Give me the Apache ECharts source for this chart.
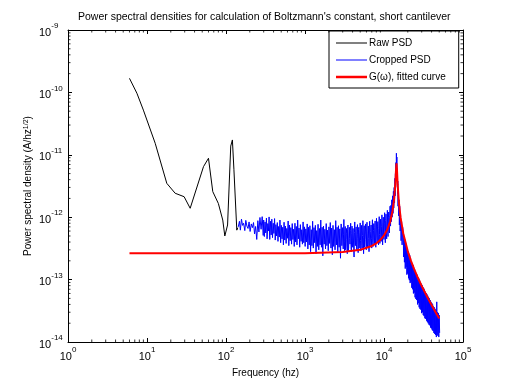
<!DOCTYPE html>
<html><head><meta charset="utf-8">
<script src="https://cdn.jsdelivr.net/npm/echarts@6/dist/echarts.min.js"></script>
<style>html,body{margin:0;padding:0;background:#fff}#c{width:512px;height:384px}</style>
</head><body><div id="c"></div>
<script>
// values are in units of 1e-13 A/hz^(1/2)
const PSD_UNIT = 1e-13;

const rawPsd = [
  [6.0,1680],[7.45,970],[9.0,520],[12.7,153],[17.8,34.9],[22.7,24.2],[29.5,21.3],[35.2,13.9],
  [51.9,64.6],[60,88],[68,25.7],[80,16.6],[91,9.0],[96.6,5.0],[104.7,7.5],[114.8,138],
  [120.5,173],[126,57.5],[137,6.2],[141,6.8]
];

const croppedFreq = [
  143,148,152,157,162,167,173,178,184,190,196,202,209,216,223,230,237,245,253,261,269,278,287,296,
  300,306,312,318,325,331,338,345,351,358,
  366,373,380,388,396,404,412,420,428,437,
  446,455,464,473,482,492,502,512,522,533,
  543,554,565,577,588,600,612,624,637,649,
  662,676,689,703,717,731,746,761,776,792,
  808,824,840,857,874,892,909,928,946,965,
  984,1004,1024,1045,1066,1087,1109,1131,1154,1177,
  1200,1224,1249,1274,1299,1325,1352,1379,1407,1435,
  1463,1493,1522,1553,1584,1616,1648,1681,1714,1749,
  1784,1819,1856,1893,1931,1969,2009,2049,2090,2132,
  2174,2218,2262,2307,2354,2401,2449,2498,2548,2599,
  2651,2704,2758,2813,2869,2927,2985,3045,3106,3168,
  3231,3296,3362,3429,3498,3568,3639,3712,3786,3862,
  3939,4018,4098,4180,4264,4349,4436,4525,4616,4708,
  4802,4898,4996,5096,5198,5302,5408,5516,5626,5739,
  5854,5971,6090,6212,6336,6463,6592,6724,6859,6996,
  7136,7279,7424,7573,7724,7879,8036,8197,8361,8528,
  8699,8873,9050,9231,9416,9604,9796,9992,10192,10396,
  10604,10816,11032,11253,11478,11708,11942,
  12100,12250,12400,12550,12700,12850,13000,13150,13300,13450,13600,13750,13850,13950,14050,14150,
  14250,14350,14450,14550,14650,14750,14850,14950,15050,15200,15350,15500,15650,15800,16000,16200,
  16450,16700,16950,17200,
  17500,17710,17923,18138,18355,18576,18799,19024,19253,19484,19718,19954,20194,20436,20681,20930,
  21181,21435,21692,21952,22216,22483,22752,23025,23302,23581,23864,24151,24440,24734,25030,25331,
  25635,25942,26254,26569,26888,27210,27537,27867,28202,28540,28883,29229,29580,29935,30294,30658,
  31026,31398,31775,32156,32542,32932,33328,33728,34132,34542,34957,35376,35800,36230,36665,37105,
  37550,38000,38456,38918,39385,39857,40335,40819,41309,41805,42307,42814,43328,43848,44374,44907,
  45446,45991,46543,47101,47667,48239,48817,49403,49996,50596
];
const croppedPsd = [
  7.0,8.6,6.2,9.3,7.4,8.0,6.1,8.9,7.2,6.6,8.4,5.9,7.8,6.8,8.2,5.4,7.1,4.4,8.8,5.8,9.9,6.4,10.2,5.1,
  9.0,4.9,8.4,5.6,9.7,4.5,7.9,6.0,10.1,4.4,
  8.6,5.2,9.3,4.7,8.0,5.5,9.5,4.3,7.6,5.0,
  8.2,4.1,7.1,4.8,9.0,3.9,7.4,4.5,6.9,3.6,
  8.3,4.3,7.2,3.8,6.6,4.6,8.7,3.5,7.5,4.2,
  6.8,3.7,7.9,4.4,6.4,3.4,8.0,4.0,7.1,3.6,
  9.0,4.5,6.7,3.3,7.6,4.1,6.3,3.7,8.4,3.9,
  7.0,3.4,6.5,4.0,7.8,3.1,6.9,3.6,7.3,2.8,
  6.3,3.5,8.6,3.2,6.8,3.9,7.4,2.6,6.1,3.4,
  7.7,3.0,6.6,3.6,9.0,3.3,6.9,2.4,7.2,3.7,
  6.4,3.1,7.9,3.5,6.2,2.9,7.0,3.8,8.2,3.2,
  6.7,2.5,7.4,3.4,6.3,3.0,8.8,3.6,6.9,2.7,
  7.3,3.3,6.5,2.2,7.8,3.5,6.8,3.1,9.2,2.9,
  7.1,3.4,6.6,2.6,7.5,3.2,6.9,3.7,8.0,2.8,
  7.2,3.3,6.7,2.3,8.4,3.5,7.0,3.0,7.6,2.7,
  6.9,3.4,8.1,2.9,7.4,3.2,8.8,2.6,7.3,3.5,
  7.8,3.0,8.3,3.3,7.2,2.8,8.6,3.6,7.5,3.2,
  9.1,3.4,7.9,3.7,8.7,3.3,9.6,3.9,8.5,3.6,
  10.2,3.8,9.3,4.1,10.9,3.6,10.0,4.4,11.8,3.9,
  11.2,4.5,12.9,4.9,12.1,5.6,15.0,
  7.2,15.5,8.5,19.0,10.0,22.0,11.5,26.0,14.0,30.0,17.0,42.0,22.0,50.0,30.0,75.0,
  45.0,106.0,55.0,92.0,40.0,60.0,24.0,38.0,15.0,26.0,10.5,19.0,7.5,15.0,6.0,11.0,
  4.2,8.5,3.6,7.0,
  5.8,2.3,5.0,1.9,4.4,1.5,3.9,1.6,3.5,1.2,3.1,1.25,2.85,1.05,2.6,0.98,
  2.45,0.88,2.2,0.92,2.0,0.74,1.85,0.70,1.72,0.60,1.55,0.62,1.45,0.52,1.36,0.49,
  1.28,0.47,1.20,0.40,1.10,0.42,1.04,0.36,0.98,0.34,0.92,0.33,0.86,0.29,0.82,0.30,
  0.76,0.27,0.73,0.26,0.69,0.24,0.64,0.235,0.61,0.22,0.58,0.21,0.55,0.20,0.52,0.19,
  0.50,0.185,0.47,0.17,0.44,0.165,0.42,0.155,0.40,0.15,0.37,0.14,0.36,0.135,0.34,0.13,
  0.32,0.12,0.44,0.13,0.30,0.125,0.29,0.12,0.27,0.14
];
// additional samples of the dense part of the cropped PSD (3 kHz - 12 kHz)
const croppedDenseFreq = [
  3075,3137,3199,3263,3329,3395,3463,3533,3603,3675,3749,3824,3900,3978,4058,4139,4222,4306,4392,4480,
  4570,4662,4755,4850,4947,5046,5147,5250,5355,5462,5571,5682,5796,5912,6030,6151,6274,6399,6527,6658,
  6791,6927,7066,7207,7351,7498,7648,7801,7957,8116,8279,8444,8613,8786,8961,9140,9323,9510,9700,9894,
  10092,10294,10500,10710,10924,11142,11365,11593,11825
];
const croppedDensePsd = [
  5.2,4.1,6.0,3.0,5.5,4.4,6.3,2.9,5.0,4.6,6.1,3.4,5.4,4.0,6.6,3.1,5.7,4.3,6.0,3.6,
  5.3,4.5,6.4,3.2,5.6,4.2,6.2,3.5,5.1,4.7,6.5,3.3,5.8,4.4,6.0,3.7,5.5,4.6,6.8,3.4,
  5.9,4.5,6.4,3.9,6.1,4.8,6.9,3.8,6.3,5.0,7.2,4.2,6.6,5.3,7.5,4.6,7.0,5.6,8.2,4.9,
  7.8,6.0,8.9,5.4,8.6,6.6,9.8,6.2,10.5
];

const fittedCurve = [
  [6,2.64],[100,2.64],[1000,2.65],[3000,2.76],[5000,3.0],[7000,3.46],[8000,3.82],[9000,4.33],
  [10000,5.1],[11000,6.33],[12000,8.6],[12800,12.6],[13400,19.1],[13900,34.1],[14200,58],[14400,73],
  [14600,57],[14900,32.9],[15400,17.8],[16200,9.9],[17500,5.53],[20000,2.84],[22000,1.98],[24000,1.48],
  [27000,1.05],[30000,0.79],[34000,0.577],[38000,0.443],[42000,0.352],[45000,0.30],[50000,0.239]
];

const xTickExponents = [0,1,2,3,4,5];
const yTickExponents = [-14,-13,-12,-11,-10,-9];
const minorMultipliers = [2,3,4,5,6,7,8,9];

const scale = arr => arr.map(p => [p[0], p[1] * PSD_UNIT]);
const croppedData = croppedFreq.map((f, i) => [f, croppedPsd[i] * PSD_UNIT])
  .concat(croppedDenseFreq.map((f, i) => [f, croppedDensePsd[i] * PSD_UNIT]))
  .sort((a, b) => a[0] - b[0]);

const xMin = Math.pow(10, xTickExponents[0]), xMax = Math.pow(10, xTickExponents[xTickExponents.length-1]);
const yMin = Math.pow(10, yTickExponents[0]), yMax = Math.pow(10, yTickExponents[yTickExponents.length-1]);

const xMinor = [], yMinor = [];
xTickExponents.slice(0,-1).forEach(e => minorMultipliers.forEach(m => xMinor.push(m * Math.pow(10, e))));
yTickExponents.slice(0,-1).forEach(e => minorMultipliers.forEach(m => yMinor.push(m * Math.pow(10, e))));

const FONT = "'Liberation Sans', Arial, Helvetica, sans-serif";
const pow10Label = v => '{b|10}{e|' + Math.round(Math.log10(v)) + '}';
const labelRich = {
  b: {fontSize: 11, fontFamily: FONT, color: '#000', padding: [5,0,0,0]},
  e: {fontSize: 8, fontFamily: FONT, color: '#000', verticalAlign: 'top'}
};
const tickStyle = {show: true, inside: true, length: 4, lineStyle: {color: '#000', width: 1}};
const lineStyle = {show: true, lineStyle: {color: '#000', width: 1}};

const minorSeries = (data, side) => {
  const base = {type: 'scatter', silent: true, clip: false, symbol: 'rect', z: 5,
    itemStyle: {color: '#000'}, animation: false};
  if (side === 'bottom') return Object.assign(base, {data: data.map(v => [v, yMin]), symbolSize: [1, 2.5], symbolOffset: [0, -1.25]});
  if (side === 'top') return Object.assign(base, {data: data.map(v => [v, yMax]), symbolSize: [1, 2.5], symbolOffset: [0, 1.25]});
  if (side === 'left') return Object.assign(base, {data: data.map(v => [xMin, v]), symbolSize: [2.5, 1], symbolOffset: [1.25, 0]});
  return Object.assign(base, {data: data.map(v => [xMax, v]), symbolSize: [2.5, 1], symbolOffset: [-1.25, 0]});
};

const chart = echarts.init(document.getElementById('c'), null, {renderer: 'canvas'});
chart.setOption({
  animation: false,
  backgroundColor: '#fff',
  textStyle: {fontFamily: FONT},
  title: {
    text: "Power spectral densities for calculation of Boltzmann's constant, short cantilever",
    left: 78, top: 12, padding: 0,
    textStyle: {fontSize: 10.5, fontWeight: 'normal', color: '#000', fontFamily: FONT}
  },
  legend: {
    orient: 'vertical', left: 329, top: 31,
    symbolKeepAspect: true,
    data: [
      {name: 'Raw PSD', icon: 'path://M0,0H31V1H0Z'},
      {name: 'Cropped PSD', icon: 'path://M0,0H31V1H0Z'},
      {name: 'G(\u03c9), fitted curve', icon: 'path://M0,0H31V2.5H0Z'}
    ],
    itemWidth: 31, itemHeight: 14, itemGap: 7,
    padding: [7, 13, 6, 7],
    borderColor: '#000', borderWidth: 1, backgroundColor: '#fff',
    textStyle: {fontSize: 10, color: '#000', fontFamily: FONT, padding: [0,0,0,-3]}
  },
  grid: {left: 68, right: 49, top: 30, bottom: 42, containLabel: false},
  xAxis: [{
    type: 'log', logBase: 10, min: xMin, max: xMax,
    name: 'Frequency (hz)', nameLocation: 'middle', nameGap: 26,
    nameTextStyle: {fontSize: 10, color: '#000', fontFamily: FONT},
    axisLine: lineStyle, axisTick: tickStyle, splitLine: {show: false},
    axisLabel: {formatter: pow10Label, rich: labelRich, margin: 4, color: '#000'}
  }, {
    type: 'log', logBase: 10, min: xMin, max: xMax, position: 'top',
    axisLine: lineStyle, axisTick: tickStyle, splitLine: {show: false}, axisLabel: {show: false}
  }],
  yAxis: [{
    type: 'log', logBase: 10, min: yMin, max: yMax,
    name: 'Power spectral density (A/hz{s|1/2})', nameLocation: 'middle', nameGap: 35,
    nameMoveOverlap: false,
    nameTextStyle: {fontSize: 10, color: '#000', fontFamily: FONT,
      rich: {s: {fontSize: 7, fontFamily: FONT, color: '#000', verticalAlign: 'top'}}},
    axisLine: lineStyle, axisTick: tickStyle, splitLine: {show: false},
    axisLabel: {formatter: pow10Label, rich: labelRich, margin: 29, align: 'left', color: '#000'}
  }, {
    type: 'log', logBase: 10, min: yMin, max: yMax, position: 'right',
    axisLine: lineStyle, axisTick: tickStyle, splitLine: {show: false}, axisLabel: {show: false}
  }],
  series: [
    {name: 'Raw PSD', type: 'line', data: scale(rawPsd), symbol: 'none', showSymbol: false,
      lineStyle: {color: '#000', width: 1}, itemStyle: {color: '#000'}, z: 2},
    {name: 'Cropped PSD', type: 'line', data: croppedData, symbol: 'none', showSymbol: false,
      lineStyle: {color: '#0000ff', width: 1}, itemStyle: {color: '#0000ff'}, z: 3},
    {name: 'G(\u03c9), fitted curve', type: 'line', data: scale(fittedCurve), symbol: 'none', showSymbol: false,
      lineStyle: {color: '#ff0000', width: 2}, itemStyle: {color: '#ff0000'}, z: 4},
    minorSeries(xMinor, 'bottom'), minorSeries(xMinor, 'top'),
    minorSeries(yMinor, 'left'), minorSeries(yMinor, 'right')
  ]
});
</script></body></html>
